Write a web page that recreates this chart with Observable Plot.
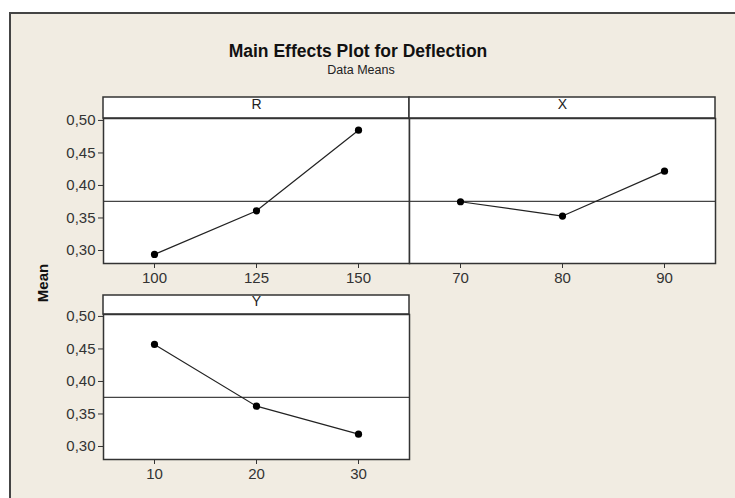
<!DOCTYPE html>
<html>
<head>
<meta charset="utf-8">
<script src="https://cdn.jsdelivr.net/npm/d3@7"></script>
<script src="https://cdn.jsdelivr.net/npm/@observablehq/plot@0.6"></script>
<style>
  html, body { margin: 0; padding: 0; background: #ffffff; }
  #wrap { position: relative; width: 735px; height: 498px; overflow: hidden; background: #ffffff; }
  #bg { position: absolute; left: 9px; top: 12px; width: 740px; height: 500px; background: #f1ece2; border-top: 2px solid #444; border-left: 2px solid #444; }
  .abs { position: absolute; }
  #title { position: absolute; left: 0; width: 716px; top: 41px; text-align: center; font: bold 17.5px "Liberation Sans", Arial, sans-serif; color: #111; }
  #subtitle { position: absolute; left: 0; width: 722px; top: 63px; text-align: center; font: 12.5px "Liberation Sans", Arial, sans-serif; color: #222; }
  #ylab { position: absolute; left: 42px; top: 283px; transform: translate(-50%, -50%) rotate(-90deg); font: bold 15px "Liberation Sans", Arial, sans-serif; color: #111; white-space: nowrap; }
</style>
</head>
<body>
<div id="wrap">
  <div id="bg"></div>
  <div id="title">Main Effects Plot for Deflection</div>
  <div id="subtitle">Data Means</div>
  <div id="ylab">Mean</div>
</div>
<script>
// ---- data ----
const factorR = "R";
const levelsR = [100, 125, 150];
const meansR = [0.294, 0.361, 0.485];

const factorX = "X";
const levelsX = [70, 80, 90];
const meansX = [0.375, 0.353, 0.422];

const factorY = "Y";
const levelsY = [10, 20, 30];
const meansY = [0.457, 0.362, 0.319];

const grandMean = 0.3755;
const yTicks = [0.30, 0.35, 0.40, 0.45, 0.50];
const yDomain = [0.28, 0.503];

// ---- drawing ----
const tickFont = "'Liberation Sans', Arial, sans-serif";
const ink = "#333";

function strip(h) {
  return (index, scales, values, dims) => {
    return d3.create("svg:rect")
      .attr("x", dims.marginLeft)
      .attr("y", dims.marginTop - h)
      .attr("width", dims.width - dims.marginLeft - dims.marginRight)
      .attr("height", h)
      .attr("fill", "white")
      .attr("stroke", ink)
      .attr("stroke-width", 1.5)
      .node();
  };
}

function panel({name, levels, means, left, top, marginLeft, marginRight, marginTop, stripH, showY}) {
  const data = levels.map((l, i) => ({level: l, mean: means[i]}));
  const plotH = 145;
  const marginBottom = 32;
  const width = marginLeft + 306 + marginRight;
  const chart = Plot.plot({
    width,
    height: marginTop + plotH + marginBottom,
    marginLeft, marginRight, marginTop, marginBottom,
    style: {background: "transparent", overflow: "visible", fontFamily: tickFont, fontSize: "15px", color: ink},
    x: {type: "point", domain: levels, padding: 0.5, label: null, tickSize: 5, tickPadding: 4},
    y: {domain: yDomain, label: null, ticks: yTicks, tickSize: 5, tickPadding: 3,
        tickFormat: d => d.toFixed(2).replace(".", ","), axis: showY ? "left" : null},
    marks: [
      Plot.frame({fill: "white"}),
      strip(stripH),
      Plot.text([name], {frameAnchor: "top", lineAnchor: "middle", dy: -stripH / 2 - 3, text: d => d, fontSize: 14, fill: "#222"}),
      Plot.ruleY([grandMean], {stroke: "#444", strokeWidth: 1.2}),
      Plot.line(data, {x: "level", y: "mean", stroke: "#222", strokeWidth: 1.2}),
      Plot.dot(data, {x: "level", y: "mean", r: 3.6, fill: "#000", stroke: "none"}),
      Plot.frame({stroke: ink, strokeWidth: 1.5})
    ]
  });
  chart.classList.add("abs");
  chart.style.left = left + "px";
  chart.style.top = top + "px";
  document.getElementById("wrap").appendChild(chart);
}

panel({name: factorR, levels: levelsR, means: meansR, left: 50, top: 90, marginLeft: 53, marginRight: 0, marginTop: 28, stripH: 21, showY: true});
panel({name: factorX, levels: levelsX, means: meansX, left: 409, top: 90, marginLeft: 0, marginRight: 0, marginTop: 28, stripH: 21, showY: false});
panel({name: factorY, levels: levelsY, means: meansY, left: 50, top: 290, marginLeft: 53, marginRight: 0, marginTop: 24, stripH: 19, showY: true});
</script>
</body>
</html>
